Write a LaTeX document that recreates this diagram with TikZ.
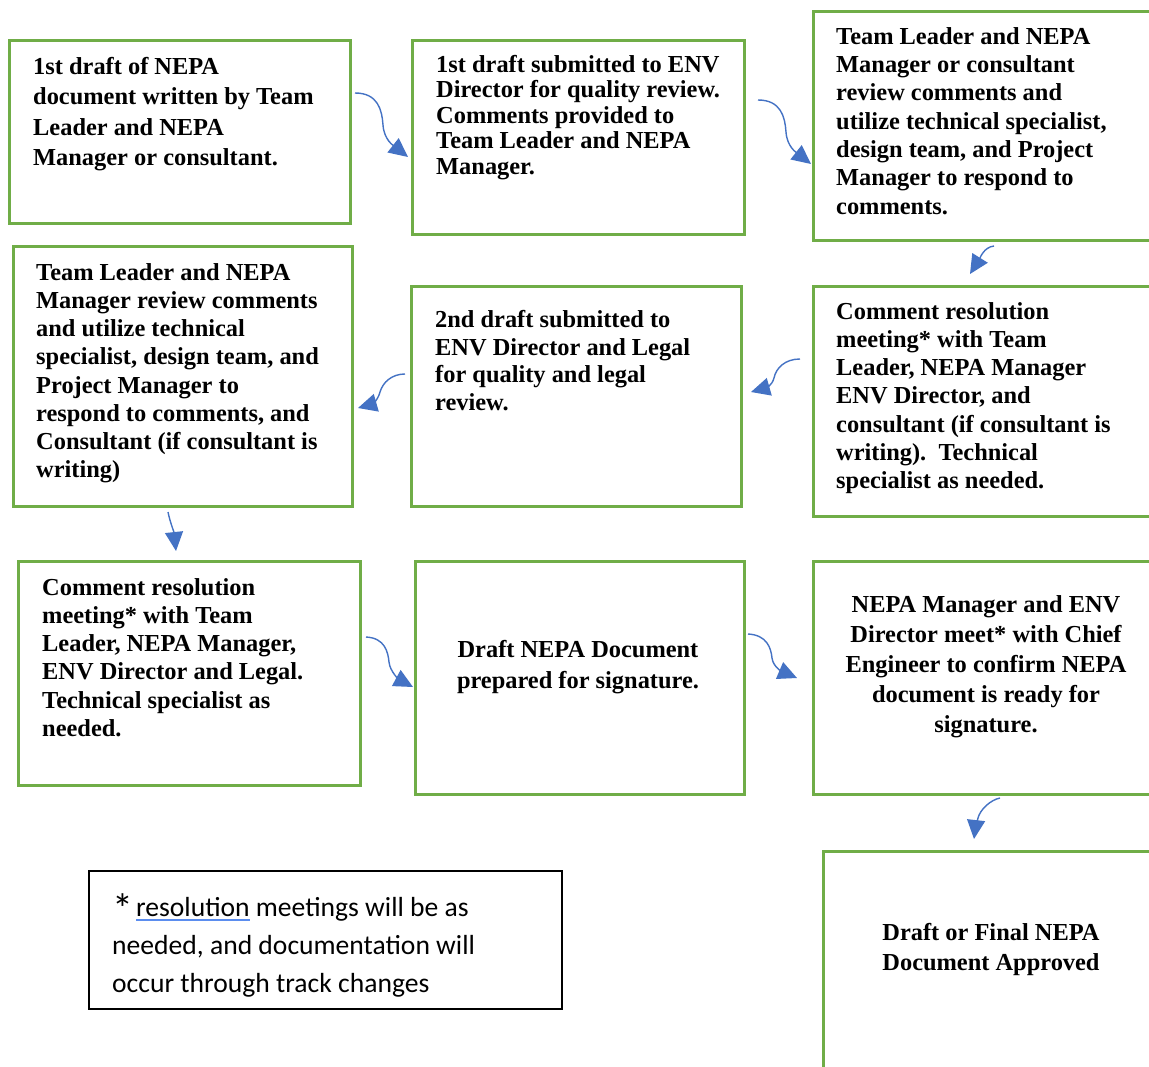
\documentclass[tikz,border=0pt]{standalone}
\usepackage{fontspec}
\setmainfont{Liberation Serif}
\newfontfamily\timesfont{Liberation Serif}
\newfontfamily\calibrifont{Carlito}
\usetikzlibrary{arrows.meta}
\definecolor{boxgreen}{HTML}{70AD47}
\definecolor{arrowblue}{HTML}{4472C4}
\definecolor{ulblue}{HTML}{5B8DEF}
\newcommand\blueul[1]{\setbox0\hbox{#1}\rlap{\color{ulblue}\rule[-5pt]{\wd0}{2pt}}\box0\relax}
\newcommand\firstline{\rule{0pt}{17pt}}
\tikzset{
  stagebox/.style={draw=boxgreen, line width=3pt, inner sep=0pt, rectangle},
  legendbox/.style={draw=black, line width=2.5pt, inner sep=0pt, rectangle},
  stagetext/.style={inner sep=0pt, font=\timesfont\bfseries\fontsize{24.4}{#1}\selectfont},
  flowarrow/.style={draw=arrowblue, line width=1.4pt, -{Triangle[length=19pt,width=18pt]}, fill=none},
}
\begin{document}
\begin{tikzpicture}[x=1pt,y=-1pt]
\useasboundingbox (0,0) rectangle (1149,1066);
\fill[white] (0,0) rectangle (1149,1066);

% boxes
\node[stagebox, minimum width=341pt, minimum height=183pt] (b1) at (179.5,131.5) {};
\node[stagebox, minimum width=332pt, minimum height=194pt] (b2) at (578,137) {};
\node[stagebox, minimum width=357pt, minimum height=229pt] (b3) at (991.5,125.5) {};
\node[stagebox, minimum width=339pt, minimum height=260pt] (b4) at (182.5,376) {};
\node[stagebox, minimum width=330pt, minimum height=220pt] (b5) at (576,396) {};
\node[stagebox, minimum width=357pt, minimum height=230pt] (b6) at (991.5,401) {};
\node[stagebox, minimum width=342pt, minimum height=224pt] (b7) at (189,673) {};
\node[stagebox, minimum width=329pt, minimum height=233pt] (b8) at (579.5,677.5) {};
\node[stagebox, minimum width=357pt, minimum height=233pt] (b9) at (991.5,677.5) {};
\node[stagebox, minimum width=347pt, minimum height=239pt] (b10) at (996.5,970.5) {};
\node[legendbox, minimum width=473pt, minimum height=138pt] (leg) at (325.5,940) {};

% texts
\node[stagetext=30.5, anchor=north west, align=left] (t1) at (33,57) {\firstline 1st draft of NEPA\\document written by Team\\Leader and NEPA\\Manager or consultant.};
\node[stagetext=25.5, anchor=north west, align=left] (t2) at (436,55) {\firstline 1st draft submitted to ENV\\Director for quality review.\\Comments provided to\\Team Leader and NEPA\\Manager.};
\node[stagetext=28.3, anchor=north west, align=left] (t3) at (836,27) {\firstline Team Leader and NEPA\\Manager or consultant\\review comments and\\utilize technical specialist,\\design team, and Project\\Manager to respond to\\comments.};
\node[stagetext=28.2, anchor=north west, align=left] (t4) at (36,263) {\firstline Team Leader and NEPA\\Manager review comments\\and utilize technical\\specialist, design team, and\\Project Manager to\\respond to comments, and\\Consultant (if consultant is\\writing)};
\node[stagetext=27.8, anchor=north west, align=left] (t5) at (435,310) {\firstline 2nd draft submitted to\\ENV Director and Legal\\for quality and legal\\review.};
\node[stagetext=28.2, anchor=north west, align=left] (t6) at (836,302) {\firstline Comment resolution\\meeting* with Team\\Leader, NEPA Manager\\ENV Director, and\\consultant (if consultant is\\writing).\ \ Technical\\specialist as needed.};
\node[stagetext=28.2, anchor=north west, align=left] (t7) at (42,578) {\firstline Comment resolution\\meeting* with Team\\Leader, NEPA Manager,\\ENV Director and Legal.\\Technical specialist as\\needed.};
\node[stagetext=31, anchor=north, align=center] (t8) at (578,640) {\firstline Draft NEPA Document\\prepared for signature.};
\node[stagetext=30, anchor=north, align=center] (t9) at (986,595) {\firstline NEPA Manager and ENV\\Director meet* with Chief\\Engineer to confirm NEPA\\document is ready for\\signature.};
\node[stagetext=30, anchor=north, align=center] (t10) at (991,923) {\firstline Draft or Final NEPA\\Document Approved};

\node[inner sep=0pt, anchor=north west, align=left, font=\calibrifont\fontsize{27.6}{38}\selectfont] (tleg) at (112,893)
  {\rule{0pt}{19pt}{\fontsize{42}{42}\selectfont\raisebox{-7pt}{*}}\hspace{3pt}\blueul{resolution} meetings will be as\\needed, and documentation will\\occur through track changes};

% arrow end points
\coordinate (a1s) at (355,93);   \coordinate (a1e) at (408,157);
\coordinate (a2s) at (758,100);  \coordinate (a2e) at (811,164);
\coordinate (a3s) at (994,246);  \coordinate (a3e) at (970,274);
\coordinate (a4s) at (800,359);  \coordinate (a4e) at (751,392);
\coordinate (a5s) at (405,374);  \coordinate (a5e) at (358,408);
\coordinate (a6s) at (168,512);  \coordinate (a6e) at (176,551);
\coordinate (a7s) at (366,637);  \coordinate (a7e) at (413,687);
\coordinate (a8s) at (748,634);  \coordinate (a8e) at (797,678);
\coordinate (a9s) at (1000,798); \coordinate (a9e) at (974,839);

\draw[flowarrow] (a1s) .. controls (378,93) and (382,110) .. (383,125) .. controls (384,140) and (394,146) .. (a1e);
\draw[flowarrow] (a2s) .. controls (781,100) and (785,117) .. (786,132) .. controls (787,147) and (797,153) .. (a2e);
\draw[flowarrow] (a3s) .. controls (984,247) and (980,258) .. (a3e);
\draw[flowarrow] (a4s) .. controls (785,359) and (776,368) .. (774,378) .. controls (772,386) and (765,388) .. (a4e);
\draw[flowarrow] (a5s) .. controls (392,374) and (383,382) .. (380,392) .. controls (378,400) and (372,404) .. (a5e);
\draw[flowarrow] (a6s) .. controls (170,522) and (174,532) .. (a6e);
\draw[flowarrow] (a7s) .. controls (385,638) and (388,652) .. (389,662) .. controls (390,672) and (400,680) .. (a7e);
\draw[flowarrow] (a8s) .. controls (767,635) and (771,648) .. (772,658) .. controls (773,667) and (783,672) .. (a8e);
\draw[flowarrow] (a9s) .. controls (990,800) and (980,810) .. (978,818) .. controls (976,826) and (975,830) .. (a9e);
\end{tikzpicture}
\end{document}
